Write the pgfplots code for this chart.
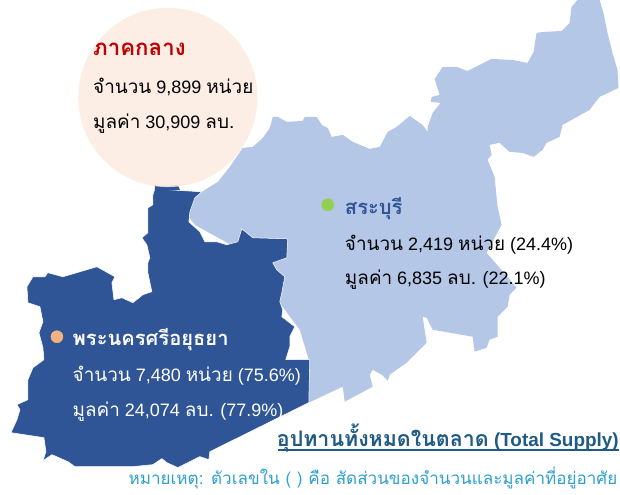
\documentclass[border=0pt]{standalone}
\usepackage{fontspec}
\usepackage{pgfplots}
\pgfplotsset{compat=1.18}
\setmainfont{Liberation Sans}
\newfontfamily\thaifont[Script=Thai,Scale=1.05]{Loma}
\newcommand{\tht}[1]{{\thaifont #1}}
\definecolor{darkmap}{HTML}{2F5597}
\definecolor{lightmap}{HTML}{B4C7E7}
\definecolor{bubble}{HTML}{FCEBE1}
\definecolor{orangedot}{HTML}{F4B183}
\definecolor{greendot}{HTML}{92D050}
\definecolor{titlered}{HTML}{C00000}
\definecolor{supply}{HTML}{1F5B84}
\definecolor{note}{HTML}{2E9FCF}
\newcommand{\body}{\fontsize{13.5}{16}\selectfont}
\newcommand{\head}{\fontsize{14.4}{17}\selectfont\bfseries}
\begin{document}
\begin{tikzpicture}[every node/.style={inner sep=0pt}]
\begin{axis}[
    x=0.75pt, y=0.75pt,
    xmin=0, xmax=620,
    ymin=0, ymax=495,
    y dir=reverse,
    hide axis,
    clip=false,
    set layers=standard,
]

% keeps the page at the full 620x495 frame
\addplot[draw=none, no marks] coordinates {(0,0) (620,495)};

% Saraburi
\addplot[fill=lightmap, draw=none, no marks] coordinates {
    (202,192) (218,182) (230,167) (243,148) (253,147) (263,138) (270,128) (273,117)
    (278,117) (287,122) (303,121) (305,117) (317,117) (322,125) (328,128) (332,137)
    (343,135) (353,142) (370,149) (380,147) (388,132) (397,127) (410,116) (423,125)
    (428,132) (432,140) (428,140) (428,127) (433,113) (441,103) (431,102) (432,97)
    (440,95) (435,79) (443,67) (457,67) (468,71) (480,65) (492,59) (513,60) (528,63)
    (534,52) (537,33) (543,32) (562,31) (570,23) (572,7) (578,0) (600,0) (604,13)
    (608,33) (613,53) (618,70) (619,88) (600,97) (590,110) (563,125) (560,137)
    (547,143) (543,150) (534,157) (523,153) (510,152) (500,143) (490,145) (492,155)
    (488,160) (495,177) (498,207) (502,225) (487,253) (500,268) (517,288) (510,295)
    (508,307) (498,317) (498,337) (490,340) (487,348) (475,352) (473,337) (450,333)
    (433,330) (427,318) (423,317) (427,343) (407,363) (390,375) (388,381) (382,375)
    (373,370) (370,375) (373,387) (345,402) (343,387) (309,403) (309,360) (300,330)
    (240,250) (195,225) (185,212) (190,198) (202,192)
};

% Ayutthaya
\addplot[fill=darkmap, draw=white, line width=0.4pt, no marks] coordinates {
    (155,189) (202,192) (195,198) (190,212) (189,222) (200,232) (205,242) (217,242)
    (227,245) (238,242) (242,229) (253,238) (288,239) (287,258) (273,263) (277,270)
    (285,277) (282,293) (280,302) (283,310) (282,317) (295,327) (290,337) (290,347)
    (286,360) (310,360) (309,403) (210,452) (209,460) (200,457) (190,462) (178,468)
    (167,463) (162,459) (153,465) (133,467) (100,467) (75,467) (68,462) (52,455)
    (43,461) (46,452) (44,438) (11,433) (17,420) (20,410) (17,405) (28,400) (28,380)
    (33,368) (44,360) (43,348) (39,333) (43,322) (40,307) (28,303) (27,287) (33,277)
    (45,277) (48,273) (63,277) (80,272) (97,267) (115,277) (112,283) (114,300)
    (122,298) (133,303) (143,295) (152,292) (148,273) (148,263) (150,258) (147,245)
    (142,238) (148,233) (148,208) (153,205) (153,195) (155,189)
};

% tip showing through the bubble
\addplot[fill=darkmap, draw=none, no marks] coordinates {
    (155,183) (157,186) (168,186) (178,185) (180,190) (155,190) (155,183)
};

% central region bubble
\addplot[only marks, mark=*, mark size=67.3pt, color=bubble,
    mark options={fill opacity=0.88, draw opacity=0}] coordinates {(168,97.5)};

\addplot[only marks, mark=*, mark size=4.5pt, color=greendot] coordinates {(328,205)};
\addplot[only marks, mark=*, mark size=4.5pt, color=orangedot] coordinates {(57,337)};

% underline of the supply heading
\addplot[supply, line width=1.5pt, no marks] coordinates {(278,450.5) (619.5,450.5)};

\begin{pgfonlayer}{axis foreground}
\node[anchor=base west, text=titlered] at (axis cs:93,56)
    {\fontsize{15.9}{18}\selectfont\bfseries\tht{ภาคกลาง}};
\node[anchor=base west, text=black] at (axis cs:93,94)
    {\body\tht{จำนวน} 9,899 \tht{หน่วย}};
\node[anchor=base west, text=black] at (axis cs:93,129)
    {\body\tht{มูลค่า} 30,909 \tht{ลบ.}};

\node[anchor=base west, text=darkmap] at (axis cs:345,215)
    {\head\tht{สระบุรี}};
\node[anchor=base west, text=black] at (axis cs:345,251)
    {\body\tht{จำนวน} 2,419 \tht{หน่วย} (24.4\%)};
\node[anchor=base west, text=black] at (axis cs:345,285)
    {\body\tht{มูลค่า} 6,835 \tht{ลบ.} (22.1\%)};

\node[anchor=base west, text=white] at (axis cs:72.5,346)
    {\head\tht{พระนครศรีอยุธยา}};
\node[anchor=base west, text=white] at (axis cs:72.5,382)
    {\body\tht{จำนวน} 7,480 \tht{หน่วย} (75.6\%)};
\node[anchor=base west, text=white] at (axis cs:72.5,417)
    {\body\tht{มูลค่า} 24,074 \tht{ลบ.} (77.9\%)};

\node[anchor=base east, text=supply] at (axis cs:619.5,447)
    {\fontsize{14.2}{17}\selectfont\bfseries{\fontsize{15.3}{17}\selectfont\tht{อุปทานทั้งหมดในตลาด}} (Total Supply)};
\node[anchor=base east, text=note] at (axis cs:618,485)
    {\fontsize{12.2}{15}\selectfont\tht{หมายเหตุ: ตัวเลขใน ( ) คือ สัดส่วนของจำนวนและมูลค่าที่อยู่อาศัย}};
\end{pgfonlayer}

\end{axis}
\end{tikzpicture}
\end{document}
